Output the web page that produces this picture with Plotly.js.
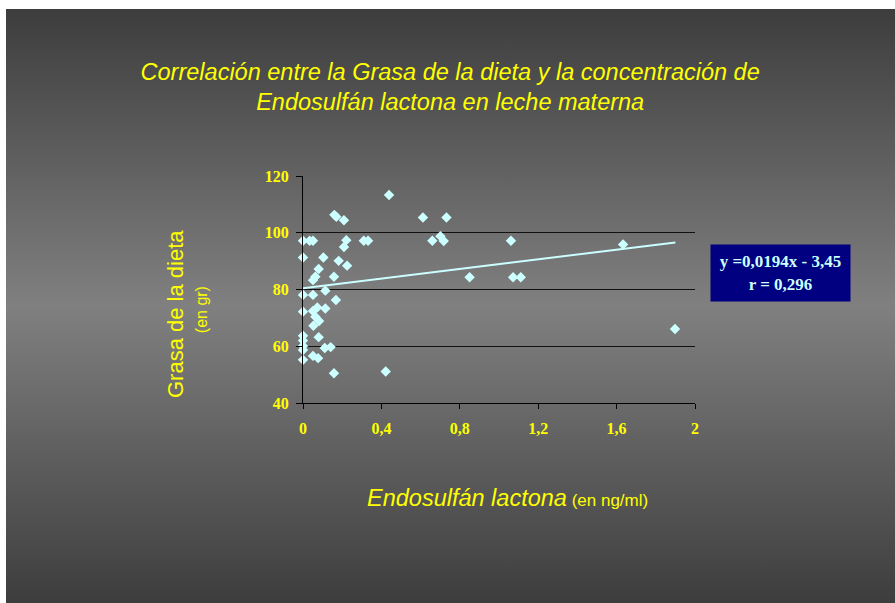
<!DOCTYPE html>
<html>
<head>
<meta charset="utf-8">
<script src="https://cdn.plot.ly/plotly-3.0.1.min.js"></script>
<style>
  html, body { margin: 0; padding: 0; background: #fff; }
  #chart {
    width: 895px; height: 603px;
    background: linear-gradient(#3d3d3d, #808080 50%, #3d3d3d) 6px 9px / 889px 594px no-repeat, #fff;
  }
</style>
</head>
<body>
<div id="chart"></div>
<script>
// Endosulfán lactona (ng/ml) vs grasa de la dieta (gr)
const endosulfan = [
  0.439, 0.160, 0.170, 0.209, 0.000, 0.034, 0.051, 0.221, 0.209, 0.310,
  0.332, 0.000, 0.104, 0.182, 0.225, 0.080, 0.063, 0.051, 0.158, 0.000,
  0.051, 0.114, 0.168, 0.000, 0.051, 0.073, 0.114, 0.063, 0.082, 0.053,
  0.080, 0.000, 0.000, 0.000, 0.000, 0.111, 0.141, 0.000, 0.051, 0.077,
  0.158, 0.422, 0.612, 0.732, 0.660, 0.701, 0.718, 0.850, 1.061, 1.072,
  1.111, 1.633, 1.898
];
const grasa = [
  113.3, 106.3, 105.6, 104.4, 97.2, 97.2, 97.2, 97.4, 95.0, 97.2,
  97.2, 91.3, 91.3, 90.1, 88.4, 87.2, 84.5, 83.3, 84.5, 78.1,
  78.1, 79.6, 76.3, 72.2, 72.4, 73.7, 73.3, 70.4, 68.9, 67.2,
  63.2, 63.7, 62.0, 60.1, 58.7, 59.4, 59.7, 55.2, 56.6, 55.8,
  50.5, 51.1, 105.4, 105.4, 97.2, 98.8, 97.1, 84.3, 97.2, 84.3,
  84.3, 95.9, 66.1
];

// trend line as drawn on the slide
const trendX = [0, 1.9];
const trendY = [80.4, 96.6];
const eqText = 'y =0,0194x - 3,45<br>r = 0,296';

const yellow = '#ffff00';
const cyan = '#ccffff';
const tickFont = { family: 'Liberation Serif, Times New Roman, serif', size: 16, color: yellow, weight: 'bold' };

const traces = [
  { type: 'scatter', mode: 'lines', x: trendX, y: trendY,
    line: { color: cyan, width: 2 }, hoverinfo: 'skip' },
  { type: 'scatter', mode: 'markers', x: endosulfan, y: grasa, cliponaxis: false,
    marker: { symbol: 'diamond', size: 8, color: cyan, line: { width: 0 } } }
];

const layout = {
  width: 895, height: 603,
  margin: { l: 303, r: 200, t: 176, b: 200 },
  paper_bgcolor: 'rgba(0,0,0,0)',
  plot_bgcolor: 'rgba(0,0,0,0)',
  showlegend: false,
  separators: ',.',
  title: {
    text: 'Correlación entre la Grasa de la dieta y la concentración de<br>Endosulfán lactona en leche materna',
    font: { family: 'Liberation Sans, Arial, sans-serif', size: 23.5, color: yellow, style: 'italic' },
    x: 0.503, xanchor: 'center', y: 0.868, yanchor: 'middle'
  },
  xaxis: {
    range: [0, 2], dtick: 0.4, tick0: 0,
    showgrid: false, zeroline: false,
    showline: true, linecolor: '#000', linewidth: 1,
    ticks: 'outside', ticklen: 5, tickcolor: '#000',
    ticklabelstandoff: 6,
    tickfont: tickFont
  },
  yaxis: {
    range: [40, 120], dtick: 20,
    showgrid: true, gridcolor: '#111', gridwidth: 1,
    zeroline: false,
    showline: true, linecolor: '#000', linewidth: 1,
    ticks: 'outside', ticklen: 6, tickcolor: '#000',
    ticklabelstandoff: 4,
    tickfont: tickFont
  },
  annotations: [
    { text: 'Grasa de la dieta', xref: 'paper', yref: 'paper', x: -0.3265, y: 0.392,
      textangle: -90, showarrow: false, xanchor: 'center', yanchor: 'middle',
      font: { family: 'Liberation Sans, Arial, sans-serif', size: 22, color: yellow } },
    { text: '(en gr)', xref: 'paper', yref: 'paper', x: -0.257, y: 0.41,
      textangle: -90, showarrow: false, xanchor: 'center', yanchor: 'middle',
      font: { family: 'Liberation Sans, Arial, sans-serif', size: 16, color: yellow } },
    { text: '<i>Endosulfán lactona</i><span style="font-size:17px"> (en ng/ml)</span>',
      xref: 'paper', yref: 'paper', x: 0.5217, y: -0.4185,
      showarrow: false, xanchor: 'center', yanchor: 'middle',
      font: { family: 'Liberation Sans, Arial, sans-serif', size: 23.5, color: yellow } },
    { text: eqText, xref: 'paper', yref: 'paper', x: 1.218, y: 0.5727,
      showarrow: false, xanchor: 'center', yanchor: 'middle',
      width: 139, height: 56, borderpad: 0, bgcolor: '#000080',
      font: { family: 'Liberation Serif, Times New Roman, serif', size: 17, color: cyan, weight: 'bold' } }
  ]
};

Plotly.newPlot('chart', traces, layout, { displayModeBar: false, staticPlot: true });
</script>
</body>
</html>
